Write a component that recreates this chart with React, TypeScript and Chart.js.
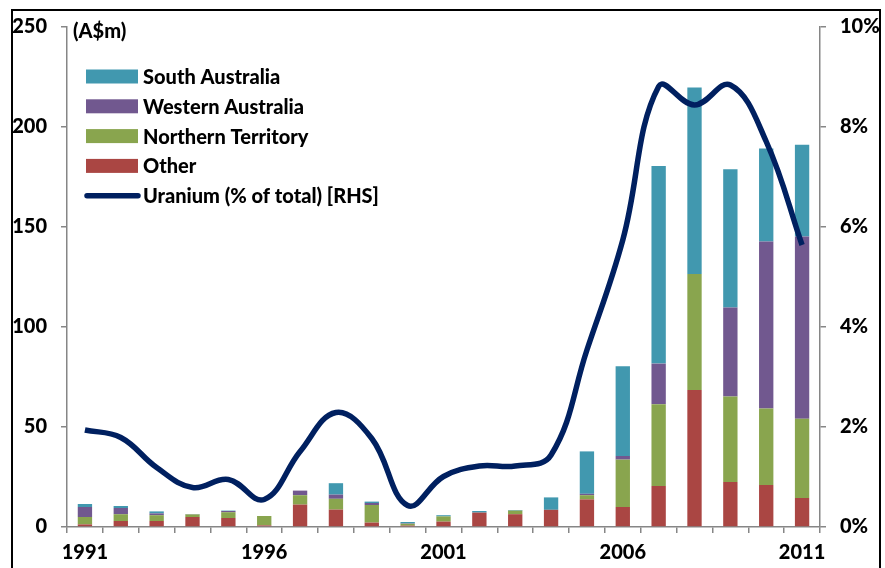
import React, { useEffect, useRef } from 'react';
import { Chart, registerables } from 'chart.js';

Chart.register(...registerables);

const years = ['1991','1992','1993','1994','1995','1996','1997','1998','1999','2000','2001','2002','2003','2004','2005','2006','2007','2008','2009','2010','2011'];
const other = [1.3, 3.0, 3.0, 5.0, 4.5, 0.8, 11.2, 8.7, 2.2, 0.7, 2.7, 7.2, 6.4, 8.6, 13.8, 10.0, 20.5, 68.5, 22.5, 21.0, 14.5];
const northernTerritory = [3.7, 3.4, 2.9, 1.3, 2.9, 4.7, 4.7, 5.4, 8.8, 0.9, 2.6, 0.0, 1.8, 0.0, 2.1, 23.7, 40.9, 58.0, 42.7, 38.2, 39.6];
const westernAustralia = [5.0, 3.1, 0.9, 0.1, 0.6, 0.0, 2.3, 2.1, 1.0, 0.2, 0.0, 0.0, 0.0, 0.0, 0.7, 1.8, 20.3, 0.0, 44.6, 83.5, 91.1];
const southAustralia = [1.5, 1.0, 1.0, 0.1, 0.2, 0.0, 0.0, 5.7, 0.7, 0.7, 0.6, 0.8, 0.3, 6.2, 21.2, 44.9, 98.8, 93.2, 69.1, 46.6, 45.9];
const uraniumShare = [1.94, 1.79, 1.19, 0.79, 0.95, 0.55, 1.51, 2.29, 1.77, 0.43, 1.01, 1.22, 1.22, 1.44, 3.54, 5.74, 8.81, 8.44, 8.84, 7.71, 5.64];

const leftMax = 250;
const leftStep = 50;
const rightMax = 10;
const rightStep = 2;

const COLORS = {
  sa: '#4198AF',
  wa: '#71588F',
  nt: '#89A54E',
  other: '#AA4643',
  line: '#002060',
  axis: '#868686',
};

const FONT_FAMILY = 'Lato, "Open Sans", sans-serif';
const FONT_WEIGHT = 900;
const tickFont = { family: FONT_FAMILY, size: 20, weight: FONT_WEIGHT as any };

const legendItems = [
  { label: 'South Australia', color: COLORS.sa, kind: 'box' },
  { label: 'Western Australia', color: COLORS.wa, kind: 'box' },
  { label: 'Northern Territory', color: COLORS.nt, kind: 'box' },
  { label: 'Other', color: COLORS.other, kind: 'box' },
  { label: 'Uranium (% of total) [RHS]', color: COLORS.line, kind: 'line' },
];

const overlayPlugin = {
  id: 'overlay',
  afterDraw(chart: any) {
    const ctx = chart.ctx as CanvasRenderingContext2D;
    ctx.save();
    ctx.font = `${FONT_WEIGHT} 20px ${FONT_FAMILY}`;
    ctx.fillStyle = '#000';
    ctx.textBaseline = 'middle';
    ctx.textAlign = 'left';
    ctx.fillText('(A$m)', 73, 32);

    legendItems.forEach((it, i) => {
      const cy = 76.5 + i * 29.8;
      if (it.kind === 'box') {
        ctx.fillStyle = it.color;
        ctx.fillRect(86, cy - 7, 52, 14);
      } else {
        ctx.strokeStyle = it.color;
        ctx.lineWidth = 5.5;
        ctx.lineCap = 'round';
        ctx.beginPath();
        ctx.moveTo(87, cy);
        ctx.lineTo(138, cy);
        ctx.stroke();
      }
      ctx.fillStyle = '#000';
      ctx.fillText(it.label, 143, cy + 1);
    });
    ctx.restore();
  },
};

export default function App() {
  const canvasRef = useRef<HTMLCanvasElement | null>(null);

  useEffect(() => {
    if (!canvasRef.current) return;
    const chart = new Chart(canvasRef.current, {
      type: 'bar',
      data: {
        labels: years,
        datasets: [
          {
            type: 'line',
            label: 'Uranium (% of total) [RHS]',
            data: uraniumShare,
            yAxisID: 'y1',
            borderColor: COLORS.line,
            backgroundColor: COLORS.line,
            borderWidth: 5.5,
            pointRadius: 0,
            tension: 0.4,
            order: 0,
          } as any,
          { label: 'Other', data: other, backgroundColor: COLORS.other, borderWidth: 0, stack: 's', yAxisID: 'y', order: 1 },
          { label: 'Northern Territory', data: northernTerritory, backgroundColor: COLORS.nt, borderWidth: 0, stack: 's', yAxisID: 'y', order: 1 },
          { label: 'Western Australia', data: westernAustralia, backgroundColor: COLORS.wa, borderWidth: 0, stack: 's', yAxisID: 'y', order: 1 },
          { label: 'South Australia', data: southAustralia, backgroundColor: COLORS.sa, borderWidth: 0, stack: 's', yAxisID: 'y', order: 1 },
        ],
      },
      options: {
        responsive: false,
        animation: false,
        devicePixelRatio: 1,
        layout: { padding: { top: 27, left: 0, right: 0, bottom: 0 } },
        datasets: { bar: { barPercentage: 0.4, categoryPercentage: 1 } },
        plugins: { legend: { display: false }, title: { display: false }, tooltip: { enabled: false } },
        scales: {
          x: {
            stacked: true,
            offset: true,
            grid: { offset: true, drawOnChartArea: false, drawTicks: true, tickLength: 6, color: COLORS.axis, lineWidth: 1.5 },
            border: { color: COLORS.axis, width: 1.5 },
            ticks: {
              autoSkip: false,
              maxRotation: 0,
              minRotation: 0,
              padding: 8,
              color: '#000',
              font: tickFont,
              callback: (_v: any, i: number) => (i % 5 === 0 ? years[i] : ''),
            },
            afterFit: (s: any) => { s.height = 41; },
          },
          y: {
            position: 'left',
            stacked: true,
            min: 0,
            max: leftMax,
            grid: { drawOnChartArea: false, drawTicks: true, tickLength: 6, color: COLORS.axis, lineWidth: 1.5 },
            border: { color: COLORS.axis, width: 1.5 },
            ticks: { stepSize: leftStep, padding: 14, color: '#000', font: tickFont },
            afterFit: (s: any) => { s.width = 67; },
          },
          y1: {
            position: 'right',
            min: 0,
            max: rightMax,
            grid: { drawOnChartArea: false, drawTicks: true, tickLength: 6, color: COLORS.axis, lineWidth: 1.5 },
            border: { color: COLORS.axis, width: 1.5 },
            ticks: { stepSize: rightStep, padding: 14, color: '#000', font: tickFont, callback: (v: any) => `${v}%` },
            afterFit: (s: any) => { s.width = 65; },
          },
        },
      } as any,
      plugins: [overlayPlugin],
    });
    return () => chart.destroy();
  }, []);

  return (
    <div style={{ position: 'fixed', left: 0, top: 0, width: 885, height: 568, overflow: 'hidden', background: '#fff' }}>
      <div style={{ position: 'absolute', left: 11, top: 9, width: 866, height: 620, border: '2px solid #000', boxSizing: 'content-box' }} />
      <canvas ref={canvasRef} width={885} height={568} style={{ position: 'absolute', left: 0, top: 0, width: 885, height: 568 }} />
    </div>
  );
}
